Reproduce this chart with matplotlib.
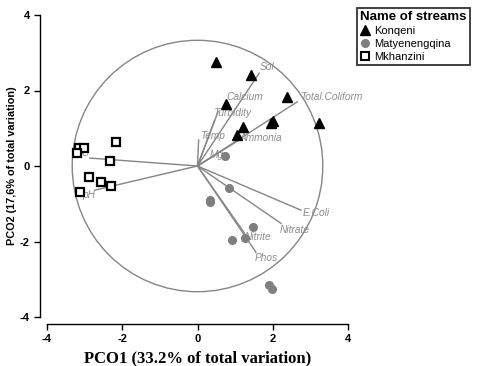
"""
PCO ordination biplot of stream samples with vector overlay
"""
import matplotlib.pyplot as plt
from matplotlib import rcParams
from matplotlib.patches import Circle
from matplotlib.lines import Line2D

rcParams['font.family'] = ['Liberation Sans', 'DejaVu Sans']
rcParams['axes.unicode_minus'] = False

# sample scores per stream
konqeni_x = [0.48, 0.77, 1.05, 1.43, 2.38, 1.95, 2.00, 1.22, 3.24]
konqeni_y = [2.76, 1.63, 0.82, 2.41, 1.83, 1.15, 1.18, 1.04, 1.14]

matyen_x = [0.74, 0.85, 0.32, 0.34, 1.48, 0.93, 1.27, 1.91, 1.99]
matyen_y = [0.26, -0.59, -0.90, -0.95, -1.61, -1.96, -1.91, -3.15, -3.26]

mkhan_x = [-2.17, -3.15, -3.02, -3.21, -2.33, -2.89, -2.57, -2.30, -3.13]
mkhan_y = [0.64, 0.48, 0.48, 0.34, 0.13, -0.29, -0.42, -0.53, -0.69]

# vector endpoints (correlations) and where their names sit
var_names = ['Sol', 'Total.Coliform', 'Calcium', 'Turbidity', 'Temp', 'Ammonia', 'Mg',
             'EC', 'pH', 'E.Coli', 'Nitrate', 'Nitrite', 'Phos']
var_x = [1.64, 2.65, 0.55, 0.45, 0.03, 1.11, 0.55, -2.86, -2.73, 2.75, 2.22, 1.25, 1.55]
var_y = [2.46, 1.70, 1.45, 1.20, 0.69, 0.69, 0.35, 0.21, -0.64, -1.17, -1.52, -1.78, -2.28]
lab_x = [1.85, 3.55, 1.25, 0.93, 0.40, 1.67, 0.50, -3.05, -2.90, 3.15, 2.57, 1.60, 1.83]
lab_y = [2.62, 1.83, 1.83, 1.40, 0.80, 0.74, 0.29, 0.34, -0.77, -1.25, -1.70, -1.88, -2.44]

circle_r = 3.33

fig = plt.figure(figsize=(4.8, 3.66), dpi=100)
ax = fig.add_axes([47 / 480, 49 / 366, 301 / 480, 302 / 366])
ax.set_xlim(-4, 4)
ax.set_ylim(-4, 4)

vec_col = '#858585'
ax.add_patch(Circle((0, 0), circle_r, fill=False, edgecolor=vec_col, linewidth=1.0, zorder=1))

for name, vx, vy, lx, ly in zip(var_names, var_x, var_y, lab_x, lab_y):
    ax.plot([0, vx], [0, vy], color=vec_col, linewidth=1.0, zorder=1)
    ax.text(lx, ly, name, color='#8c8c8c', fontsize=7.3, style='italic',
            ha='center', va='center', zorder=2)

ax.plot(konqeni_x, konqeni_y, '^', color='black', markersize=7, linestyle='none', zorder=3)
ax.plot(matyen_x, matyen_y, 'o', color='#7f7f7f', markersize=5.5, linestyle='none', zorder=3)
ax.plot(mkhan_x, mkhan_y, 's', markerfacecolor='white', markeredgecolor='black',
        markeredgewidth=1.6, markersize=5.5, linestyle='none', zorder=4)

# prism-like detached axes
for side in ['top', 'right']:
    ax.spines[side].set_visible(False)
for side in ['left', 'bottom']:
    ax.spines[side].set_position(('outward', 5))
    ax.spines[side].set_bounds(-4, 4)
    ax.spines[side].set_linewidth(1.0)
ax.set_xticks([-4, -2, 0, 2, 4])
ax.set_yticks([-4, -2, 0, 2, 4])
ax.tick_params(direction='out', length=4, width=1.0, labelsize=8)
for lbl in ax.get_xticklabels() + ax.get_yticklabels():
    lbl.set_fontweight('bold')

ax.set_xlabel('PCO1 (33.2% of total variation)', fontsize=12, fontweight='bold',
              family=['Liberation Serif', 'DejaVu Serif'], labelpad=4)
ax.set_ylabel('PCO2 (17,6% of total variation)', fontsize=7.8, fontweight='bold', labelpad=2)

handles = [
    Line2D([], [], marker='^', color='black', linestyle='none', markersize=6.5),
    Line2D([], [], marker='o', color='#7f7f7f', linestyle='none', markersize=5.5),
    Line2D([], [], marker='s', markerfacecolor='white', markeredgecolor='black',
           markeredgewidth=1.5, linestyle='none', markersize=5.5),
]
leg = fig.legend(handles, ['Konqeni', 'Matyenengqina', 'Mkhanzini'],
                 title='Name of streams', loc='upper left',
                 bbox_to_anchor=(357 / 480, 1 - 8 / 366), fontsize=8,
                 title_fontproperties={'weight': 'bold', 'size': 9.5},
                 frameon=True, fancybox=False, edgecolor='black',
                 handlelength=0.8, handletextpad=0.4, borderpad=0.3,
                 borderaxespad=0, labelspacing=0.25, alignment='left')
leg.get_frame().set_linewidth(1.3)

fig.savefig('out.png', dpi=100)
